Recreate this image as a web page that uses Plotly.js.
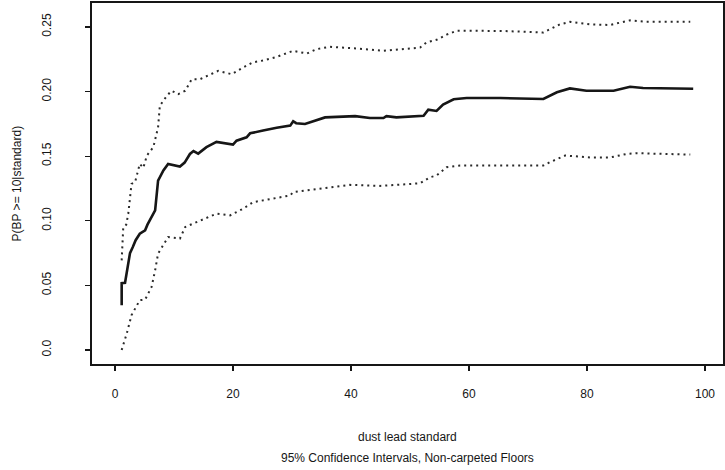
<!DOCTYPE html>
<html><head><meta charset="utf-8">
<script src="https://cdn.plot.ly/plotly-3.0.1.min.js"></script>
<style>html,body{margin:0;padding:0;background:#fff}</style>
</head><body><div id="chart" style="width:725px;height:470px"></div>
<script>
// Point estimate
const estX = [1.13,1.13,1.7,2.54,3.0,3.5,4.2,5.1,5.5,6.2,6.8,7.3,8.2,9.0,10.2,11.0,11.8,12.7,13.3,14.1,15.5,17.2,20.0,20.6,22.3,22.9,25.1,27.4,29.7,30.2,30.7,32.2,35.6,39.3,40.7,43.2,45.5,46.0,47.7,52.3,53.1,54.5,55.6,57.4,59.6,65.3,72.6,74.9,77.1,79.9,84.5,87.3,89.5,98.0];
const estY = [0.0347,0.0517,0.052,0.075,0.0795,0.085,0.090,0.0926,0.097,0.103,0.108,0.131,0.139,0.144,0.1425,0.142,0.145,0.1517,0.154,0.152,0.157,0.161,0.159,0.162,0.1646,0.1677,0.1698,0.172,0.1736,0.177,0.1755,0.1749,0.180,0.1806,0.181,0.1795,0.1795,0.181,0.180,0.1813,0.186,0.185,0.190,0.194,0.195,0.195,0.1942,0.1994,0.2024,0.2006,0.2006,0.2037,0.2027,0.2022];
// Upper 95% bound
const upX = [1.13,1.4,1.9,2.25,2.8,3.4,4.2,4.8,5.4,6.5,7.3,7.6,8.8,9.6,10.7,11.9,13.0,14.4,17.5,19.8,21.7,23.4,25.1,27.4,30.2,32.5,34.2,36.4,40.9,45.5,51.7,52.8,54.5,56.2,57.9,61.7,65.3,72.6,73.7,75.4,77.1,80.5,83.9,87.3,90.1,97.5];
const upY = [0.0694,0.0951,0.097,0.1055,0.1286,0.1299,0.144,0.141,0.1505,0.157,0.1723,0.189,0.1968,0.2006,0.198,0.2006,0.2095,0.2095,0.216,0.2134,0.2186,0.2226,0.224,0.2268,0.2315,0.2294,0.2328,0.2346,0.2333,0.2315,0.234,0.238,0.240,0.244,0.247,0.247,0.2469,0.2457,0.248,0.252,0.2539,0.252,0.2515,0.2551,0.2539,0.2539];
// Lower 95% bound
const loX = [1.13,2.0,2.8,4.2,5.1,6.2,6.8,7.3,9.0,10.5,11.0,11.9,13.8,17.2,19.5,21.7,23.4,25.7,29.7,30.2,34.7,39.8,44.9,51.7,53.4,54.5,56.2,58.5,65.3,72.6,73.7,76.3,80.5,83.9,86.7,88.4,97.5];
const loY = [0.0,0.0129,0.027,0.0386,0.039,0.0488,0.0617,0.0746,0.0874,0.0862,0.0862,0.0952,0.099,0.1055,0.1042,0.1093,0.1144,0.1162,0.1196,0.1222,0.1248,0.1278,0.127,0.129,0.1337,0.135,0.1414,0.1427,0.1427,0.1427,0.1453,0.1505,0.149,0.149,0.1517,0.1523,0.1512];

const xTicks = [0,20,40,60,80,100];
const yTicks = [0.0,0.05,0.10,0.15,0.20,0.25];
const yTickText = ["0.0","0.05","0.10","0.15","0.20","0.25"];

const ink = '#161616';
const font = {family:'"Liberation Sans", Arial, sans-serif', size:12, color:ink};

const traces = [
  {x:estX, y:estY, mode:'lines', line:{color:ink, width:2.6}, hoverinfo:'skip'},
  {x:upX, y:upY, mode:'lines', line:{color:'#2a2a2a', width:2, dash:'2px,4px'}, hoverinfo:'skip'},
  {x:loX, y:loY, mode:'lines', line:{color:'#2a2a2a', width:2, dash:'2px,4px'}, hoverinfo:'skip'}
];

const layout = {
  width:725, height:470,
  margin:{l:92, r:2, t:3, b:106},
  paper_bgcolor:'#fff', plot_bgcolor:'#fff',
  showlegend:false,
  font:font,
  xaxis:{range:[-3.9,103.05], tickvals:xTicks, ticks:'outside', ticklen:5, tickwidth:1.2, tickcolor:ink,
    showgrid:false, zeroline:false, showline:true, linecolor:ink, linewidth:1.6, mirror:true,
    ticklabelstandoff:13, tickfont:font},
  yaxis:{range:[-0.0108,0.2685], tickvals:yTicks, ticktext:yTickText, tickangle:-90, ticks:'outside', ticklen:5, tickwidth:1.2, tickcolor:ink,
    showgrid:false, zeroline:false, showline:true, linecolor:ink, linewidth:1.6, mirror:true,
    ticklabelstandoff:30, tickfont:font},
  annotations:[
    {text:'dust lead standard', xref:'paper', yref:'paper', x:0.5, y:(364-437)/361, xanchor:'center', yanchor:'middle', showarrow:false, font:font},
    {text:'95% Confidence Intervals, Non-carpeted Floors', xref:'paper', yref:'paper', x:0.5, y:(364-458)/361, xanchor:'center', yanchor:'middle', showarrow:false, font:font},
    {text:'P(BP >= 10|standard)', xref:'paper', yref:'paper', x:(16-92)/631, y:0.5, xanchor:'center', yanchor:'middle', textangle:-90, showarrow:false, font:font}
  ]
};
Plotly.newPlot('chart', traces, layout, {staticPlot:true, displayModeBar:false});
</script></body></html>
